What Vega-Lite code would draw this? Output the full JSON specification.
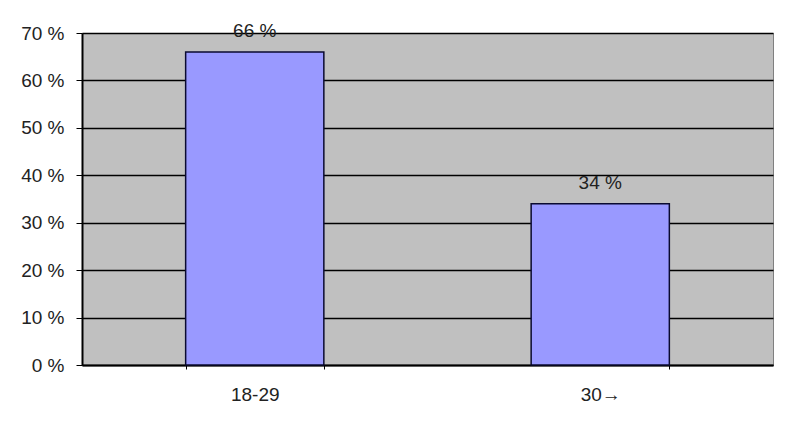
{
  "$schema": "https://vega.github.io/schema/vega-lite/v6.json",
  "width": 691,
  "height": 332,
  "autosize": {"type": "none"},
  "padding": {"left": 82, "top": 33, "right": 15, "bottom": 64},
  "background": "white",
  "data": {"values": [
    {"age": "18-29", "share": 66},
    {"age": "30→", "share": 34}
  ]},
  "transform": [{"calculate": "datum.share + ' %'", "as": "label"}],
  "config": {
    "font": "Liberation Sans",
    "view": {"fill": "#C0C0C0", "stroke": "#808080", "strokeWidth": 1}
  },
  "encoding": {
    "x": {
      "field": "age", "type": "nominal", "sort": null,
      "scale": {"paddingInner": 0.6, "paddingOuter": 0.3},
      "axis": {
        "title": null, "labelAngle": 0, "labelFontSize": 19, "labelColor": "#222",
        "labelPadding": 16, "domainColor": "#000", "domainWidth": 2,
        "tickColor": "#000", "tickSize": 4, "tickBand": "extent", "grid": false
      }
    }
  },
  "layer": [
    {
      "mark": {"type": "bar", "fill": "#9999FF", "stroke": "#0a0a30", "strokeWidth": 1.5},
      "encoding": {
        "y": {
          "field": "share", "type": "quantitative",
          "scale": {"domain": [0, 70]},
          "axis": {
            "title": null, "values": [0, 10, 20, 30, 40, 50, 60, 70],
            "labelExpr": "datum.value + ' %'", "labelFontSize": 19, "labelColor": "#222",
            "labelPadding": 12, "domainColor": "#000", "domainWidth": 2,
            "tickColor": "#000", "tickSize": 6,
            "grid": true, "gridColor": "#000", "gridWidth": 1.5
          }
        }
      }
    },
    {
      "mark": {"type": "text", "dy": -21, "fontSize": 19, "color": "#222"},
      "encoding": {
        "y": {"field": "share", "type": "quantitative"},
        "text": {"field": "label"}
      }
    }
  ]
}
